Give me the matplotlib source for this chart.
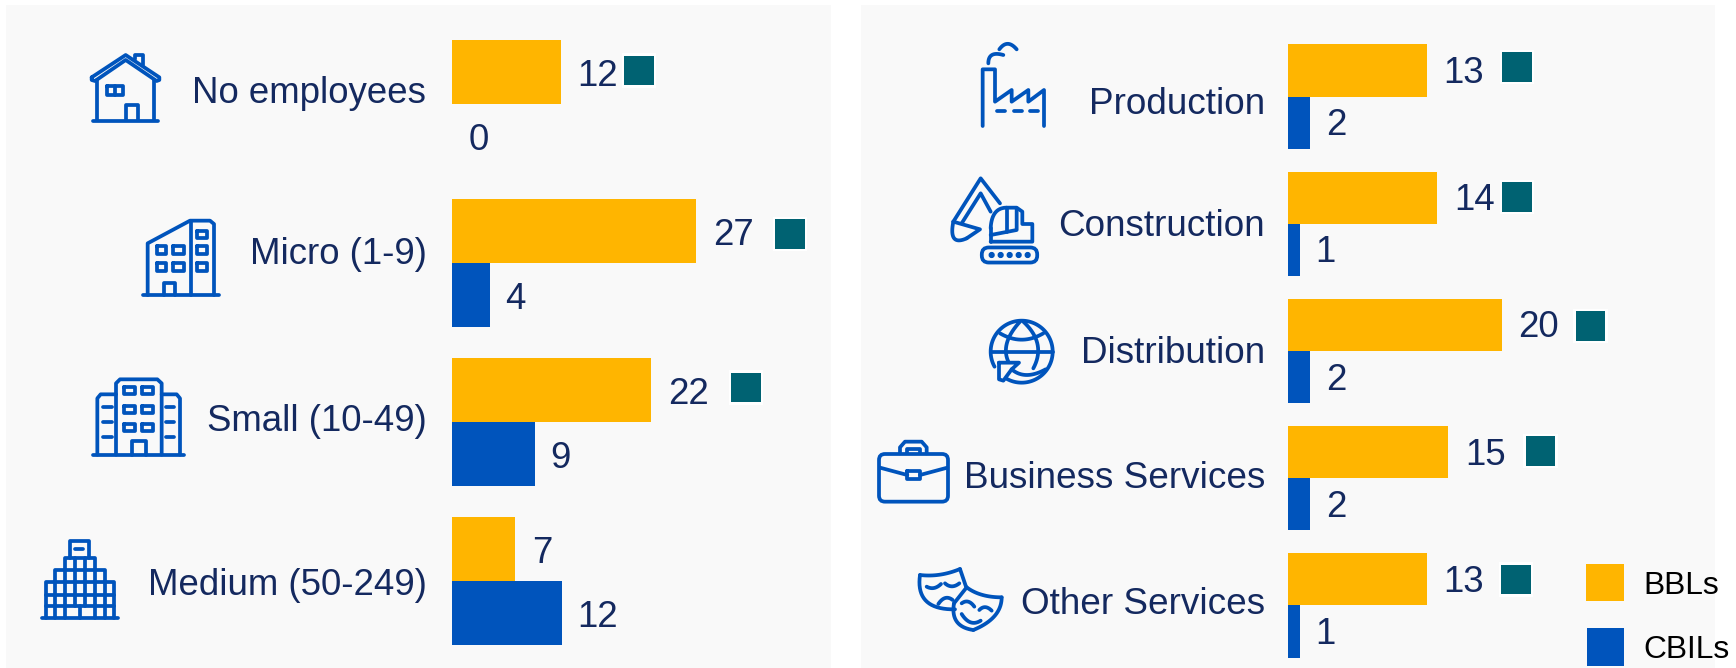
import numpy as np
import matplotlib
matplotlib.use('Agg')
import matplotlib.pyplot as plt
from matplotlib.patches import Rectangle, FancyBboxPatch, Circle

plt.rcParams['font.family'] = ['Liberation Sans', 'DejaVu Sans']

# data
size_labels = ['No employees', 'Micro (1-9)', 'Small (10-49)', 'Medium (50-249)']
size_bbls = [12, 27, 22, 7]
size_cbils = [0, 4.15, 9.2, 12.15]

sector_labels = ['Production', 'Construction', 'Distribution', 'Business Services', 'Other Services']
sector_bbls = [13, 14, 20, 15, 13]
sector_cbils = [2.1, 1.1, 2.1, 2.1, 1.1]

# colours
YELLOW = '#FFB500'
BLUE = '#0054BC'
TEAL = '#006272'
NAVY = '#14295F'
PANEL = '#F9F9F9'

# layout, all in pixels of the 1736x668 picture
size_label_base = [103, 264, 431, 595]
sector_label_base = [114, 236, 363, 488, 614]
size_marks = [(624, 55.7), (775, 219), (731, 372.7)]
sector_marks = [(1502, 52.3), (1502, 182.3), (1575.7, 311), (1525.7, 436), (1501.3, 564.7)]

W, H = 1736, 668
LW = 2.7


def add_bar_axes(fig, left, top, width, bottom, xmax, nrows):
    ax = fig.add_axes([left / W, 1 - bottom / H, width / W, (bottom - top) / H])
    ax.set_xlim(0, xmax)
    ax.set_ylim(nrows - 0.5, -0.5)
    ax.axis('off')
    return ax


def draw_bars(ax, bbls, cbils, height, label_dy):
    y = np.arange(len(bbls))
    ax.barh(y - height / 2, bbls, height, color=YELLOW)
    ax.barh(y + height / 2, cbils, height, color=BLUE)
    # labels sit about 17px past the rounded value, baseline below the bar centre
    for i, (b, c) in enumerate(zip(bbls, cbils)):
        for val, yy in ((b, i - height / 2), (c, i + height / 2)):
            ax.annotate(str(round(val)), (round(val), yy), xytext=(12, label_dy), textcoords='offset points',
                        fontsize=26.4, color=NAVY, va='baseline', ha='left')


def curve(p0, c, p1, n=20):
    t = np.linspace(0, 1, n)[:, None]
    return (1 - t) ** 2 * np.array(p0) + 2 * t * (1 - t) * np.array(c) + t ** 2 * np.array(p1)


def icon(ov, origin, paths):
    """Paths are in zoomed (3x) pixels relative to origin."""
    for p in paths:
        p = np.asarray(p, dtype=float) / 3 + origin
        ov.plot(p[:, 0], p[:, 1], color=BLUE, lw=LW, solid_capstyle='round', solid_joinstyle='round')


def box(x0, y0, x1, y1):
    return [(x0, y0), (x1, y0), (x1, y1), (x0, y1), (x0, y0)]


def draw_buildings(ov):
    icon(ov, (0, 0), [
        [(275, 232), (377, 165), (478, 232), (478, 240), (470, 243), (377, 180), (285, 243), (275, 240), (275, 232)],
        [(405, 178), (405, 165), (430, 165), (430, 195)],
        [(290, 240), (290, 360)], [(463, 240), (463, 360)], [(278, 362), (475, 362)],
        box(320, 258, 368, 285), [(344, 258), (344, 285)],
        [(378, 360), (378, 315), (415, 315), (415, 360)],
    ])
    icon(ov, (0, 0), [
        [(428, 885), (658, 885)],
        [(443, 885), (443, 730), (570, 662), (630, 662), (642, 672), (642, 885)],
        [(573, 662), (573, 885)],
        box(470, 738, 497, 762), box(520, 738, 552, 762), box(470, 790, 497, 812), box(520, 790, 552, 812),
        box(592, 692, 622, 714), box(592, 738, 622, 762), box(592, 790, 622, 812),
        [(493, 885), (493, 850), (524, 850), (524, 885)],
    ])
    icon(ov, (0, 340), [
        [(278, 344), (552, 344)],
        [(292, 344), (292, 175), (302, 163), (348, 163)],
        [(540, 344), (540, 175), (530, 163), (485, 163)],
        [(348, 344), (348, 130), (360, 118), (472, 118), (485, 130), (485, 344)],
        box(372, 142, 405, 162), box(425, 142, 458, 162), box(372, 197, 405, 218),
        box(425, 197, 458, 218), box(372, 252, 405, 273), box(425, 252, 458, 273),
        [(310, 202), (335, 202)], [(310, 247), (335, 247)], [(310, 292), (335, 292)],
        [(497, 202), (522, 202)], [(497, 247), (522, 247)], [(497, 292), (522, 292)],
        [(395, 344), (395, 302), (437, 302), (437, 344)],
    ])
    icon(ov, (0, 340), [
        [(125, 833), (355, 833)],
        [(138, 833), (138, 725), (165, 725), (165, 690), (195, 690), (195, 655), (210, 655), (210, 602),
         (268, 602), (268, 655), (285, 655), (285, 690), (315, 690), (315, 725), (342, 725), (342, 833)],
        [(138, 765), (342, 765)], [(138, 798), (342, 798)], [(165, 725), (315, 725)],
        [(195, 690), (285, 690)], [(210, 655), (268, 655)],
        [(165, 725), (165, 833)], [(195, 690), (195, 833)], [(225, 655), (225, 798)],
        [(254, 655), (254, 798)], [(285, 690), (285, 833)], [(315, 725), (315, 833)],
        [(240, 798), (240, 833)], [(225, 627), (250, 627)],
    ])


def draw_sectors(ov):
    # factory
    icon(ov, (860, 20), [
        [(368, 318), (368, 148), (405, 148), (405, 245), (455, 210), (455, 245), (505, 210), (505, 245),
         (552, 210), (552, 318)],
        [(412, 272), (435, 272)], [(462, 272), (487, 272)], [(510, 272), (535, 272)],
        curve((385, 130), (385, 92), (430, 105)),
        curve((418, 88), (442, 55), (470, 88)),
    ])
    # excavator
    icon(ov, (860, 20), [
        [(280, 605), (362, 475), (420, 550)],
        [(305, 610), (362, 520), (392, 575)],
        [(280, 605), (360, 628), (320, 655)],
        curve((320, 655), (265, 680), (280, 605)),
        [(392, 665), (392, 625)],
        curve((392, 625), (395, 563), (440, 563)),
        [(440, 563), (470, 563), (487, 575), (487, 612), (517, 612), (517, 665), (392, 665)],
        [(392, 645), (470, 630), (470, 565)],
        [(442, 563), (442, 635)],
    ])
    ov.add_patch(FancyBboxPatch((860 + 375 / 3, 20 + 692 / 3), 147 / 3, 26 / 3, boxstyle='round,pad=3.2,rounding_size=7',
                                fc='none', ec=BLUE, lw=LW))
    for wx in [395, 422, 449, 476, 503]:
        ov.add_patch(Circle((860 + wx / 3, 20 + 705 / 3), 2.4, color=BLUE))

    # globe, 3x zoom around (975, 310)
    a = np.radians(np.linspace(209, -120, 120))
    ring = np.column_stack((140 + 93 * np.cos(a), 125 - 93 * np.sin(a)))
    icon(ov, (975, 310), [
        ring,
        [(47, 125), (235, 125)],
        curve((75, 70), (140, 108), (205, 70)),
        curve((135, 35), (75, 100), (100, 155)),
        curve((145, 35), (215, 100), (175, 175)),
        [(72, 158), (132, 158), (110, 178), (85, 212), (72, 208), (72, 158)],
        curve((110, 178), (150, 212), (212, 178)),
    ])

    # briefcase
    ov.add_patch(FancyBboxPatch((860 + 72 / 3, 340 + 357 / 3), 177 / 3, 113 / 3, boxstyle='round,pad=5,rounding_size=6',
                                fc='none', ec=BLUE, lw=LW))
    icon(ov, (860, 340), [
        [(120, 340), (120, 322), (135, 305), (185, 305), (200, 322), (200, 340)],
        [(142, 340), (142, 328), (180, 328), (180, 340)],
        [(60, 383), (142, 405)], [(180, 405), (262, 383)],
        box(142, 392, 180, 416),
    ])

    # masks
    icon(ov, (860, 340), [
        curve((180, 705), (240, 712), (300, 687)),
        [(300, 687), (318, 740)],
        curve((180, 705), (165, 810), (285, 808)),
        curve((320, 742), (360, 772), (425, 772)),
        curve((425, 772), (425, 835), (340, 870)),
        curve((340, 870), (270, 860), (282, 790)),
        [(282, 790), (320, 742)],
        curve((200, 740), (222, 752), (243, 732)),
        curve((255, 730), (275, 748), (298, 730)),
        curve((235, 792), (255, 762), (278, 780)),
        curve((305, 790), (325, 775), (343, 800)),
        curve((358, 810), (375, 792), (395, 812)),
        curve((305, 822), (330, 862), (362, 842)),
    ])


def draw_marks(ov, marks):
    for x, y in marks:
        ov.add_patch(Rectangle((x - 2.5, y - 2.5), 34.5, 34.5, color='white', lw=0))
        ov.add_patch(Rectangle((x, y), 29.5, 29.5, color=TEAL, lw=0))


def main():
    fig = plt.figure(figsize=(W / 100, H / 100), dpi=100, facecolor='white')

    back = fig.add_axes([0, 0, 1, 1], zorder=0)
    back.set_xlim(0, W)
    back.set_ylim(H, 0)
    back.axis('off')
    back.add_patch(Rectangle((6, 5), 825, 663, color=PANEL, lw=0))
    back.add_patch(Rectangle((861, 5), 854, 663, color=PANEL, lw=0))

    ax1 = add_bar_axes(fig, 452, 24.1, 380, 660.6, 42, 4)
    draw_bars(ax1, size_bbls, size_cbils, 0.402, -10)
    ax2 = add_bar_axes(fig, 1288, 33, 427, 669, 40, 5)
    draw_bars(ax2, sector_bbls, sector_cbils, 0.41, -9)

    ov = fig.add_axes([0, 0, 1, 1], zorder=5)
    ov.set_xlim(0, W)
    ov.set_ylim(H, 0)
    ov.axis('off')
    ov.patch.set_alpha(0)

    for name, base in zip(size_labels, size_label_base):
        ov.text(426.5, base, name, fontsize=26.4, color=NAVY, ha='right', va='baseline')
    for name, base in zip(sector_labels, sector_label_base):
        ov.text(1265, base, name, fontsize=26.6, color=NAVY, ha='right', va='baseline')

    draw_buildings(ov)
    draw_sectors(ov)
    draw_marks(ov, size_marks)
    draw_marks(ov, sector_marks)

    # legend
    ov.add_patch(Rectangle((1586, 564), 38, 37, color=YELLOW, lw=0))
    ov.add_patch(Rectangle((1587, 628), 37, 38, color=BLUE, lw=0))
    ov.text(1643, 594, 'BBLs', fontsize=22.9, color='black', va='baseline')
    ov.text(1643, 658, 'CBILs', fontsize=22.9, color='black', va='baseline')

    fig.savefig('out.png', dpi=100)
    plt.close(fig)


if __name__ == "__main__":
    main()
